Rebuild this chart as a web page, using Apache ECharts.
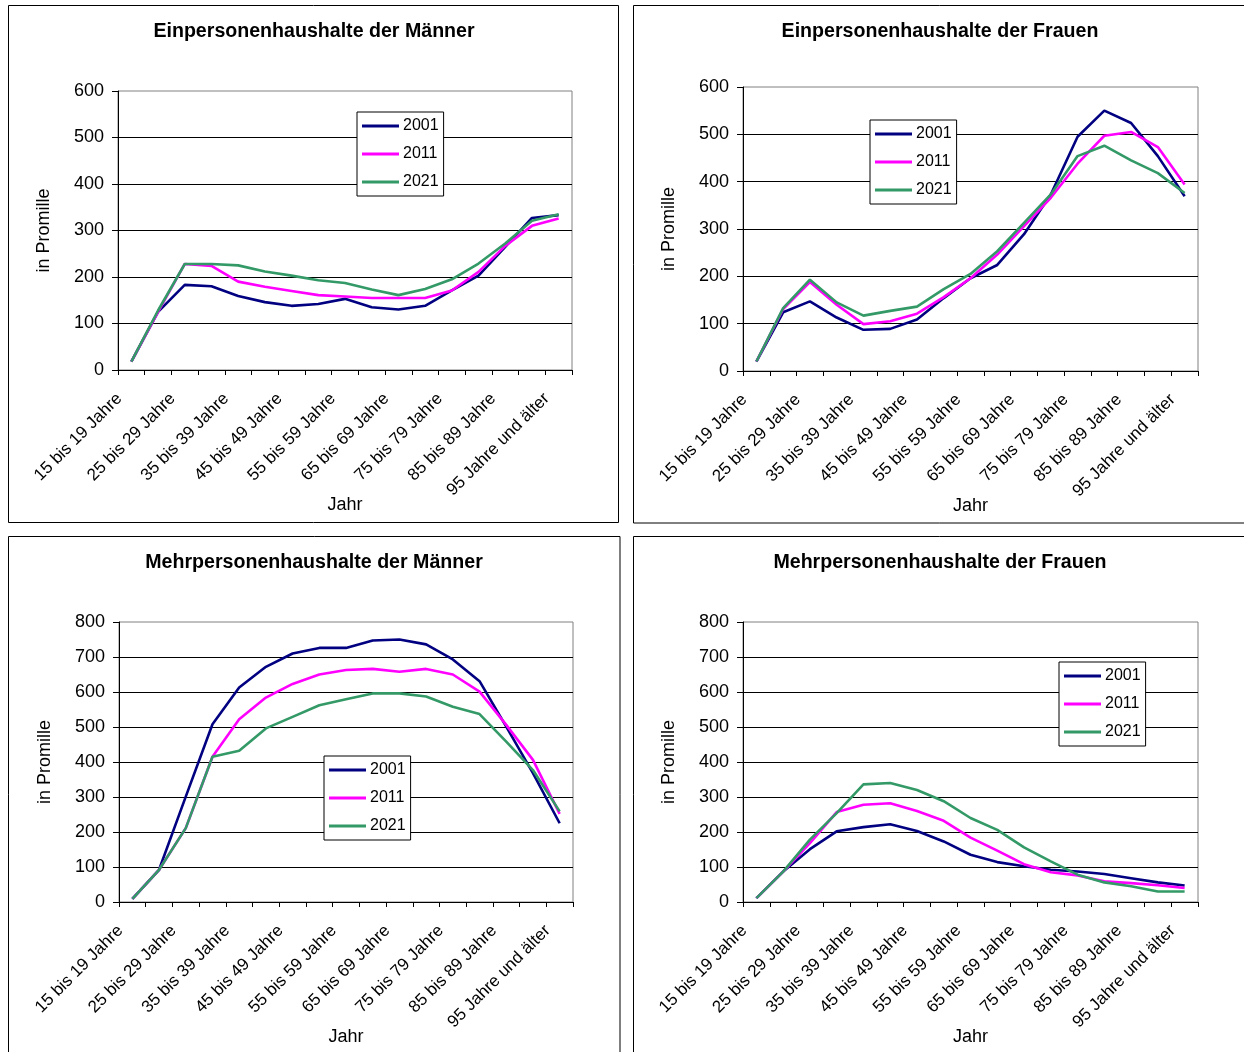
<!DOCTYPE html>
<html>
<head>
<meta charset="utf-8">
<script src="https://cdn.jsdelivr.net/npm/echarts@6/dist/echarts.min.js"></script>
<style>
html,body{margin:0;padding:0;background:#fff;}
#c{width:1244px;height:1052px;}
</style>
</head>
<body>
<div id="c"></div>
<script>
const categories = ['15 bis 19 Jahre','20 bis 24 Jahre','25 bis 29 Jahre','30 bis 34 Jahre','35 bis 39 Jahre','40 bis 44 Jahre','45 bis 49 Jahre','50 bis 54 Jahre','55 bis 59 Jahre','60 bis 64 Jahre','65 bis 69 Jahre','70 bis 74 Jahre','75 bis 79 Jahre','80 bis 84 Jahre','85 bis 89 Jahre','90 bis 94 Jahre','95 Jahre und älter'];
const years = ['2001','2011','2021'];
const titles = ['Einpersonenhaushalte der Männer','Einpersonenhaushalte der Frauen','Mehrpersonenhaushalte der Männer','Mehrpersonenhaushalte der Frauen'];
const yAxisName = 'in Promille';
const xAxisName = 'Jahr';

const einMaenner2001 = [18,125,183,180,159,146,138,142,153,135,130,138,171,203,265,327,333];
const einMaenner2011 = [18,125,228,224,190,179,170,161,158,155,155,155,171,211,267,310,326];
const einMaenner2021 = [18,128,228,228,225,212,203,193,187,173,161,174,195,229,272,321,335];

const einFrauen2001 = [20,124,147,113,87,89,109,154,196,224,289,373,495,550,524,454,369];
const einFrauen2011 = [20,131,188,140,99,105,121,156,196,246,306,366,438,497,505,473,394];
const einFrauen2021 = [20,133,193,145,117,127,136,173,205,253,313,373,454,476,445,418,376];

const mehrMaenner2001 = [9,92,301,508,613,672,710,726,726,747,750,736,693,631,501,368,225];
const mehrMaenner2011 = [9,92,211,415,522,584,623,650,663,666,658,666,650,601,506,406,252];
const mehrMaenner2021 = [9,92,211,415,432,496,529,562,579,596,596,587,558,537,458,377,259];

const mehrFrauen2001 = [11,87,151,202,214,222,203,173,135,114,102,92,87,80,68,56,47];
const mehrFrauen2011 = [11,87,168,257,278,282,260,232,184,147,108,85,76,59,54,48,40];
const mehrFrauen2021 = [11,87,178,254,336,340,320,288,240,206,156,116,78,56,45,30,30];

const yMax = [600, 600, 800, 800];

const panelData = [
  [einMaenner2001, einMaenner2011, einMaenner2021],
  [einFrauen2001, einFrauen2011, einFrauen2021],
  [mehrMaenner2001, mehrMaenner2011, mehrMaenner2021],
  [mehrFrauen2001, mehrFrauen2011, mehrFrauen2021]
];

const colors = ['#000080', '#FF00FF', '#339966'];
const FONT = 'Liberation Sans, Arial, sans-serif';

const grids = [
  {left:118, top:91, width:454, height:279},
  {left:743, top:87, width:455, height:284},
  {left:119, top:622, width:454, height:280},
  {left:743, top:622, width:455, height:280}
];
const titlePos = [
  {x:309, y:17},
  {x:935, y:17},
  {x:309, y:548},
  {x:935, y:548}
];
const legendPos = [
  {left:357, top:112},
  {left:870, top:120},
  {left:324, top:756},
  {left:1059, top:662}
];
const frames = [
  {x:8.5, y:5.5, w:610, h:517},
  {x:633.5, y:5.5, w:640, h:517.5},
  {x:8.5, y:536.5, w:611.5, h:600},
  {x:633.5, y:536.5, w:640, h:600}
];

const option = {
  backgroundColor:'#fff',
  animation:false,
  textStyle:{fontFamily:FONT},
  title:[], legend:[], grid:[], xAxis:[], yAxis:[], series:[],
  graphic: frames.map(f => ({
    type:'rect', shape:{x:f.x, y:f.y, width:f.w, height:f.h},
    style:{fill:null, stroke:'#000', lineWidth:1}, silent:true, z:-1
  }))
};

for (let p = 0; p < 4; p++) {
  option.title.push({
    text: titles[p], left: titlePos[p].x, top: titlePos[p].y, textAlign:'center',
    textStyle:{fontFamily:FONT, fontWeight:'bold', fontSize:19.6, color:'#000'}
  });
  option.grid.push(Object.assign({show:true, borderColor:'#808080', borderWidth:1, backgroundColor:'transparent', containLabel:false, outerBoundsMode:'none'}, grids[p]));
  option.xAxis.push({
    type:'category', gridIndex:p, data:categories, boundaryGap:true,
    name: xAxisName, nameLocation:'middle', nameGap:126, nameMoveOverlap:false,
    nameTextStyle:{fontFamily:FONT, fontSize:18, color:'#000'},
    axisLine:{show:true, lineStyle:{color:'#000', width:1}},
    axisTick:{show:true, interval:0, length:5, lineStyle:{color:'#000'}},
    axisLabel:{interval:1, rotate:45, margin:14, padding:[0,17,0,0], fontFamily:FONT, fontSize:17, color:'#000'},
    splitLine:{show:false}
  });
  option.yAxis.push({
    type:'value', gridIndex:p, min:0, max:yMax[p], interval:100,
    name: yAxisName, nameLocation:'middle', nameGap:65, nameRotate:90, nameMoveOverlap:false,
    nameTextStyle:{fontFamily:FONT, fontSize:18, color:'#000'},
    axisLine:{show:true, lineStyle:{color:'#000', width:1}},
    axisTick:{show:true, length:6, lineStyle:{color:'#000'}},
    axisLabel:{margin:14, fontFamily:FONT, fontSize:18, color:'#000'},
    splitLine:{show:true, showMaxLine:false, showMinLine:false, lineStyle:{color:'#000', width:1}}
  });
  option.legend.push({
    orient:'vertical', left:legendPos[p].left, top:legendPos[p].top,
    data: years.map(y => 'p' + p + '_' + y),
    formatter: n => n.split('_')[1],
    icon:'rect', itemWidth:37, itemHeight:3, itemGap:12,
    padding:[6,5,6,5], borderColor:'#000', borderWidth:1, backgroundColor:'#fff',
    textStyle:{fontFamily:FONT, fontSize:16, color:'#000', padding:[0,0,0,-1]},
    itemStyle:{borderWidth:0},
    selectedMode:false
  });
  for (let s = 0; s < 3; s++) {
    option.series.push({
      type:'line', name:'p' + p + '_' + years[s], xAxisIndex:p, yAxisIndex:p,
      data: panelData[p][s], symbol:'none', smooth:false,
      color: colors[s],
      lineStyle:{color:colors[s], width:2.6},
      z: 2 + s
    });
  }
}

const chart = echarts.init(document.getElementById('c'), null, {renderer:'canvas'});
chart.setOption(option);
</script>
</body>
</html>
